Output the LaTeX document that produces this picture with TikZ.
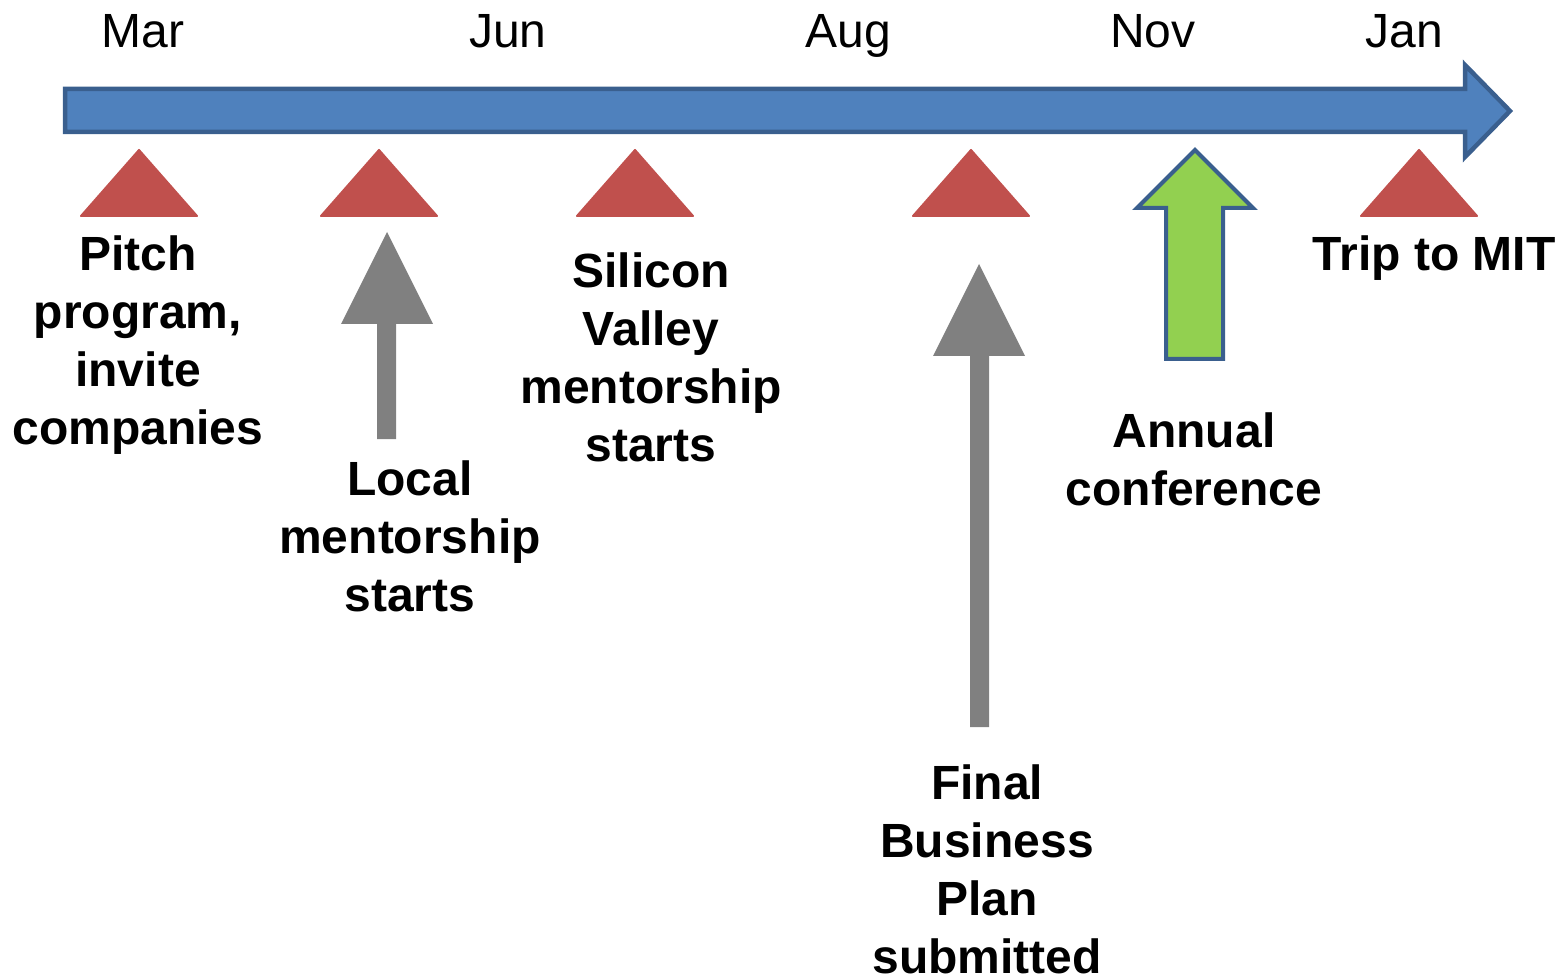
\documentclass[tikz,border=0pt]{standalone}
\usepackage{fontspec}
\setmainfont{Liberation Sans}
\definecolor{barfill}{HTML}{4F81BD}
\definecolor{barline}{HTML}{3A5F8E}
\definecolor{milestone}{HTML}{C0504D}
\definecolor{pointer}{HTML}{808080}
\definecolor{highlight}{HTML}{92D050}
\tikzset{
  month/.style={font=\fontsize{48}{58}\selectfont, anchor=base},
  event/.style={font=\fontsize{48}{58}\selectfont\bfseries, align=center, inner sep=0pt},
  marker/.style={fill=milestone, draw=milestone, line width=2pt, line join=round},
  greyarrow/.style={fill=pointer, draw=none},
}
\begin{document}
\begin{tikzpicture}[x=1pt,y=-1pt]
\useasboundingbox (0,0) rectangle (1564,976);
% timeline bar
\draw[fill=barfill, draw=barline, line width=4.5pt, line join=miter]
  (65,89) -- (1465,89) -- (1465,65) -- (1510,111) -- (1465,157) -- (1465,132) -- (65,132) -- cycle;
% month labels
\node[month] (mar) at (143,48) {Mar};
\node[month] (jun) at (508,48) {Jun};
\node[month] (aug) at (848,48) {Aug};
\node[month] (nov) at (1153,48) {Nov};
\node[month] (jan) at (1404,48) {Jan};
% milestone markers
\foreach \c in {139,379,635,971,1419}
  \draw[marker] (\c-58,216) -- (\c,150) -- (\c+58,216) -- cycle;
% grey pointers
\fill[greyarrow] (387,232) -- (433,324) -- (396,324) -- (396,439) -- (377,439) -- (377,324) -- (341,324) -- cycle;
\fill[greyarrow] (979,264) -- (1025,356) -- (989,356) -- (989,727) -- (970,727) -- (970,356) -- (933,356) -- cycle;
% green pointer
\draw[fill=highlight, draw=barline, line width=4pt, line join=miter]
  (1195,150) -- (1253,208) -- (1223,208) -- (1223,359) -- (1166,359) -- (1166,208) -- (1137,208) -- cycle;
% event labels
\node[event] (pitch) at (138,345) {Pitch\\program,\\invite\\companies};
\node[event] (local) at (410,536) {Local\\mentorship\\starts};
\node[event] (valley) at (651,357) {Silicon\\Valley\\mentorship\\starts};
\node[event] (final) at (987,869) {Final\\Business\\Plan\\submitted};
\node[event] (conf) at (1194,459) {Annual\\conference};
\node[event] (mit) at (1434,258) {Trip to MIT};
\end{tikzpicture}
\end{document}
